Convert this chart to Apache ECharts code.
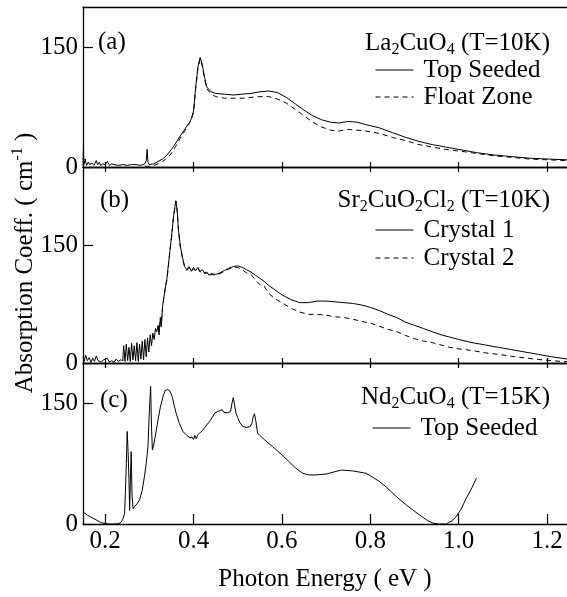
<!DOCTYPE html>
<html>
<head>
<meta charset="utf-8">
<script src="https://cdn.jsdelivr.net/npm/echarts@6/dist/echarts.min.js"></script>
<style>
  html, body { margin: 0; padding: 0; background: #fff; }
  #chart { width: 567px; height: 597px; }
</style>
</head>
<body>
<div id="chart"></div>
<script>
// panel (a) La2CuO4
var aEnergy = [0.150, 0.151, 0.152, 0.155, 0.158, 0.162, 0.165, 0.170, 0.175, 0.180, 0.183, 0.187, 0.190, 0.195, 0.200, 0.205, 0.210, 0.215, 0.220, 0.230, 0.240, 0.250, 0.260, 0.270, 0.280, 0.290, 0.293, 0.295, 0.297, 0.300, 0.310, 0.320, 0.330, 0.340, 0.350, 0.360, 0.370, 0.380, 0.390, 0.395, 0.400, 0.405, 0.410, 0.415, 0.420, 0.425, 0.430, 0.440, 0.450, 0.470, 0.490, 0.510, 0.530, 0.550, 0.570, 0.590, 0.610, 0.630, 0.650, 0.670, 0.690, 0.710, 0.730, 0.750, 0.770, 0.790, 0.820, 0.850, 0.880, 0.910, 0.940, 0.970, 1.000, 1.040, 1.080, 1.120, 1.160, 1.200, 1.245];
var aTopSeeded = [2, 25, 3, 10, 2, 6, 3, 5, 2, 8, 3, 6, 2, 4, 3, 7, 2, 4, 3, 2, 3, 2, 3, 3, 2, 4, 8, 22, 6, 3, 4, 7, 10, 15, 22, 30, 39, 47, 55, 60, 70, 100, 125, 137, 128, 112, 100, 94, 92, 91, 90, 91, 92, 94, 95, 93, 87, 79, 71, 64, 59, 56, 55, 57, 56, 53, 49, 43, 37, 32, 28, 25, 22, 18, 15, 13, 11, 10, 9];
var aFloatZone = [null, null, null, null, null, null, null, null, null, null, null, null, null, null, null, null, null, null, null, null, null, null, null, null, null, 1, 1, 1, 1, 1, 2, 4, 7, 11, 17, 26, 36, 45, 54, 59, 68, 98, 123, 135, 126, 110, 98, 91, 88, 86, 86, 86, 87, 88, 88, 85, 80, 72, 64, 56, 50, 46, 45, 47, 46, 45, 42, 37, 33, 28, 25, 22, 20, 17, 14, 12, 10, 9, 8];

// panel (b) Sr2CuO2Cl2
var bEnergy = [0.150, 0.153, 0.156, 0.160, 0.164, 0.168, 0.172, 0.176, 0.180, 0.184, 0.188, 0.192, 0.196, 0.200, 0.205, 0.210, 0.215, 0.220, 0.225, 0.230, 0.235, 0.240, 0.242, 0.245, 0.248, 0.251, 0.254, 0.257, 0.260, 0.263, 0.266, 0.269, 0.272, 0.275, 0.278, 0.281, 0.284, 0.287, 0.290, 0.293, 0.296, 0.299, 0.302, 0.305, 0.308, 0.311, 0.314, 0.317, 0.320, 0.322, 0.325, 0.327, 0.330, 0.335, 0.340, 0.345, 0.350, 0.355, 0.360, 0.363, 0.366, 0.370, 0.375, 0.380, 0.385, 0.390, 0.395, 0.400, 0.405, 0.410, 0.415, 0.420, 0.425, 0.430, 0.435, 0.440, 0.450, 0.460, 0.470, 0.480, 0.490, 0.500, 0.510, 0.520, 0.530, 0.540, 0.550, 0.560, 0.570, 0.580, 0.590, 0.600, 0.620, 0.640, 0.660, 0.680, 0.700, 0.720, 0.740, 0.760, 0.780, 0.800, 0.820, 0.840, 0.860, 0.880, 0.900, 0.920, 0.940, 0.960, 0.980, 1.000, 1.030, 1.060, 1.090, 1.120, 1.150, 1.180, 1.210, 1.245];
var bCrystal1 = [8, 2, 10, 3, 7, 1, 6, 2, 9, 3, 5, 1, 4, 2, 6, 1, 3, 1, 5, 2, 4, 3, 22, 2, 24, 3, 20, 2, 25, 4, 22, 3, 26, 2, 24, 5, 28, 4, 30, 8, 32, 14, 36, 22, 38, 30, 44, 40, 48, 36, 58, 46, 72, 92, 108, 135, 160, 188, 207, 195, 170, 150, 135, 123, 119, 123, 117, 122, 118, 122, 117, 119, 115, 116, 112, 114, 113, 115, 118, 121, 123, 124, 122, 119, 116, 112, 108, 104, 99, 95, 91, 87, 81, 77, 77, 79, 79, 78, 77, 76, 74, 71, 67, 62, 58, 52, 48, 44, 40, 36, 33, 30, 26, 23, 20, 17, 14, 11, 8, 5];
var bCrystal2 = [null, null, null, null, null, null, null, null, null, null, null, null, null, null, null, null, null, null, null, null, null, null, null, null, null, null, null, null, null, null, null, null, null, null, null, null, null, null, null, null, null, null, null, null, null, null, null, null, 46, 40, 57, 50, 71, 91, 107, 134, 159, 187, 206, 194, 169, 149, 134, 122, 118, 121, 117, 120, 117, 120, 116, 118, 114, 115, 111, 113, 112, 114, 117, 120, 122, 122, 119, 115, 113, 106, 100, 98, 89, 84, 80, 77, 70, 65, 62, 62, 61, 59, 58, 56, 53, 51, 47, 43, 40, 35, 31, 28, 26, 23, 20, 18, 16, 13, 11, 8.5, 6.5, 4.5, 3, 1.5];

// panel (c) Nd2CuO4
var cEnergy = [0.150, 0.160, 0.170, 0.180, 0.190, 0.200, 0.210, 0.220, 0.230, 0.236, 0.240, 0.244, 0.246, 0.248, 0.250, 0.252, 0.254, 0.2555, 0.257, 0.259, 0.261, 0.2635, 0.267, 0.272, 0.278, 0.284, 0.289, 0.293, 0.297, 0.299, 0.301, 0.303, 0.305, 0.307, 0.310, 0.316, 0.320, 0.325, 0.331, 0.336, 0.342, 0.347, 0.352, 0.356, 0.361, 0.368, 0.376, 0.385, 0.392, 0.397, 0.400, 0.403, 0.406, 0.410, 0.414, 0.420, 0.430, 0.436, 0.443, 0.448, 0.452, 0.456, 0.460, 0.465, 0.468, 0.472, 0.476, 0.480, 0.484, 0.487, 0.490, 0.493, 0.496, 0.500, 0.505, 0.512, 0.520, 0.528, 0.532, 0.535, 0.538, 0.541, 0.545, 0.550, 0.560, 0.579, 0.600, 0.617, 0.630, 0.647, 0.660, 0.677, 0.700, 0.720, 0.735, 0.760, 0.790, 0.800, 0.820, 0.836, 0.855, 0.874, 0.890, 0.912, 0.930, 0.942, 0.955, 0.972, 0.985, 0.994, 1.005, 1.017, 1.030, 1.040];
var cTopSeeded = [15, 11, 8, 5, 2, 0.5, 0, 0, 0.5, 2, 6, 13, 40, 75, 115, 90, 55, 17, 50, 90, 34, 19, 22, 25, 30, 42, 59, 75, 96, 125, 150, 171, 120, 92, 98, 117, 130, 145, 158, 166, 167, 165, 158, 148, 137, 125, 115, 110, 107, 108, 105, 110, 106, 111, 112, 116, 123, 127, 133, 138, 136, 140, 138, 142, 139, 141, 138, 139, 140, 150, 157, 148, 138, 132, 126, 121, 120, 121, 125, 133, 137, 128, 113, 110, 105, 96, 86, 77, 70, 63, 61, 61, 62, 65, 67, 66, 63, 60, 53, 46, 36, 27, 20, 11, 4, 1, 0, 0, 4, 9, 18, 32, 45, 57];

var xTicks = [0.2, 0.4, 0.6, 0.8, 1.0, 1.2];
var yTicks = [0, 150];
var yMax = [200, 250, 200];

var FONT = 'Liberation Serif';
var dom = document.getElementById('chart');
var myChart = echarts.init(dom, null, {renderer: 'canvas'});

function pairs(xs, ys) {
    return xs.map(function (x, i) { return [x, ys[i]]; });
}

var richText = {
    m: {fontFamily: FONT, fontSize: 25, color: '#000', lineHeight: 30},
    s: {fontFamily: FONT, fontSize: 16, color: '#000', lineHeight: 16, verticalAlign: 'bottom'},
    u: {fontFamily: FONT, fontSize: 16, color: '#000', lineHeight: 16, verticalAlign: 'top'}
};

function xAxisFor(grid, pos, tickLen, showLine, labels) {
    return {
        type: 'value', gridIndex: grid, position: pos,
        min: 0.15, max: 1.245,
        axisLine: {show: true, lineStyle: {color: '#000', width: 1.3}},
        axisTick: {show: showLine, inside: true, length: tickLen, customValues: xTicks,
                   lineStyle: {color: '#000', width: 1.2}},
        axisLabel: labels ? {show: true, customValues: xTicks, margin: 5,
                   fontFamily: FONT, fontSize: 25, color: '#000',
                   formatter: function (v) { return v.toFixed(1); }} : {show: false},
        splitLine: {show: false}
    };
}

function yAxisFor(grid) {
    return {
        type: 'value', gridIndex: grid, min: 0, max: yMax[grid],
        axisLine: {show: true, lineStyle: {color: '#000', width: 1.3}},
        axisTick: {show: true, inside: true, length: 10, customValues: yTicks,
                   lineStyle: {color: '#000', width: 1.2}},
        axisLabel: {show: true, customValues: yTicks, margin: 5,
                    fontFamily: FONT, fontSize: 25, color: '#000'},
        splitLine: {show: false}
    };
}

function lineSeries(name, xi, yi, data, dashed) {
    return {
        name: name, type: 'line', xAxisIndex: xi, yAxisIndex: yi,
        data: data, showSymbol: false, symbol: 'none', animation: false,
        lineStyle: {color: '#000', width: 1, type: dashed ? [5, 4] : 'solid'},
        itemStyle: {color: '#000'}
    };
}

// legend sample = thin line only, the symbol is hidden
function legendFor(names, left, top, lh) {
    return {
        orient: 'vertical', left: left, top: top, padding: 0, itemGap: 0,
        itemWidth: 38, itemHeight: 14, selectedMode: false,
        itemStyle: {opacity: 0, color: 'rgba(0,0,0,0)', borderWidth: 0},
        lineStyle: {width: 1},
        data: names,
        textStyle: {fontFamily: FONT, fontSize: 25, color: '#000', lineHeight: lh, padding: [0, 0, 0, 5]}
    };
}

function titleAt(text, pos, top) {
    var t = {text: text, top: top, padding: 0,
             textStyle: {fontFamily: FONT, fontSize: 25, fontWeight: 'normal', color: '#000', rich: richText}};
    Object.assign(t, pos);
    return t;
}

var option = {
    backgroundColor: '#fff',
    animation: false,
    title: [
        titleAt('{m|La}{s|2}{m|CuO}{s|4}{m| (T=10K)}', {right: 17}, 28),
        titleAt('{m|Sr}{s|2}{m|CuO}{s|2}{m|Cl}{s|2}{m| (T=10K)}', {right: 17}, 185),
        titleAt('{m|Nd}{s|2}{m|CuO}{s|4}{m| (T=15K)}', {right: 17}, 382),
        titleAt('{m|(a)}', {left: 98}, 27),
        titleAt('{m|(b)}', {left: 100}, 185),
        titleAt('{m|(c)}', {left: 100}, 385)
    ],
    legend: [
        legendFor(['Top Seeded', 'Float Zone'], 375, 56.5, 27),
        legendFor(['Crystal 1', 'Crystal 2'], 375, 216, 28),
        legendFor(['Top Seeded '], 372, 414.5, 27)
    ],
    grid: [
        {left: 83, right: 0, top: 7, height: 160},
        {left: 83, right: 0, top: 167, height: 196},
        {left: 83, right: 0, top: 363, height: 161}
    ],
    xAxis: [
        xAxisFor(0, 'bottom', 5, true, false),
        xAxisFor(0, 'top', 5, false, false),
        xAxisFor(1, 'bottom', 5, true, false),
        xAxisFor(1, 'top', 5, true, false),
        Object.assign(xAxisFor(2, 'bottom', 10, true, true), {
            name: 'Photon Energy ( eV )', nameLocation: 'middle', nameGap: 43,
            nameTextStyle: {fontFamily: FONT, fontSize: 25, color: '#000'}
        }),
        xAxisFor(2, 'top', 5, true, false)
    ],
    yAxis: [yAxisFor(0), yAxisFor(1), yAxisFor(2)],
    graphic: [
        {
            type: 'text', x: 25, y: 263, rotation: Math.PI / 2,
            style: {
                text: '{m|Absorption Coeff. ( cm}{u|-1}{m| )}',
                rich: richText, align: 'center', verticalAlign: 'middle',
                fontFamily: FONT, fontSize: 25, fill: '#000'
            }
        }
    ],
    series: [
        lineSeries('Top Seeded', 0, 0, pairs(aEnergy, aTopSeeded), false),
        lineSeries('Float Zone', 0, 0, pairs(aEnergy, aFloatZone), true),
        lineSeries('Crystal 1', 2, 1, pairs(bEnergy, bCrystal1), false),
        lineSeries('Crystal 2', 2, 1, pairs(bEnergy, bCrystal2), true),
        lineSeries('Top Seeded ', 4, 2, pairs(cEnergy, cTopSeeded), false)
    ]
};

myChart.setOption(option);
</script>
</body>
</html>
